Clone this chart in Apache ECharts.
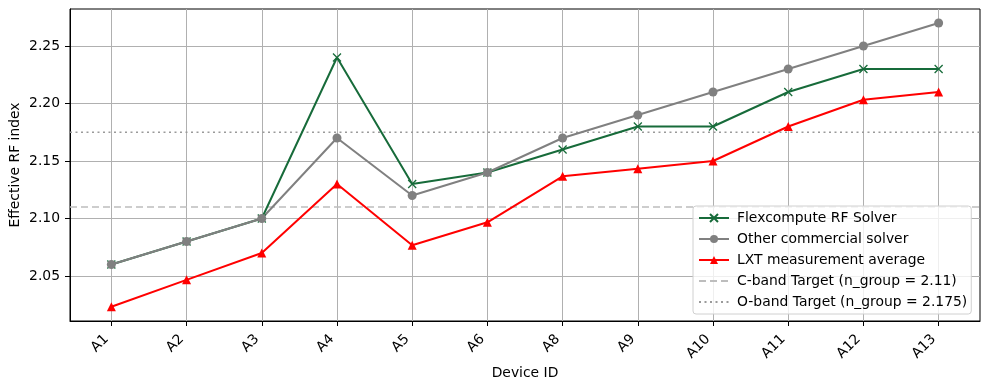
<!DOCTYPE html>
<html><head><meta charset="utf-8">
<script src="https://cdn.jsdelivr.net/npm/echarts@6/dist/echarts.min.js"></script>
<style>html,body{margin:0;padding:0;background:#fff}#c{width:989px;height:389px}</style>
</head><body><div id="c"></div>
<script>
const categories = ['A1','A2','A3','A4','A5','A6','A8','A9','A10','A11','A12','A13'];
const flexcompute = [2.06,2.08,2.10,2.24,2.13,2.14,2.16,2.18,2.18,2.21,2.23,2.23];
const otherSolver = [2.06,2.08,2.10,2.17,2.12,2.14,2.17,2.19,2.21,2.23,2.25,2.27];
const lxtAverage = [2.0233,2.0467,2.07,2.13,2.0767,2.0967,2.1367,2.1433,2.15,2.18,2.2033,2.21];
const cBandTarget = 2.11;
const oBandTarget = 2.175;
const yTicks = [2.05,2.10,2.15,2.20,2.25];
const yRange = [2.0109, 2.2822];

const xMin = -0.55, xMax = categories.length - 1 + 0.55;
const idx = categories.map((_, i) => i);
const pts = arr => arr.map((v, i) => [i, v]);
const font = 'DejaVu Sans';
const FS = 13.9;

const chart = echarts.init(document.getElementById('c'), null, {renderer: 'canvas'});
chart.setOption({
  animation: false,
  backgroundColor: '#fff',
  grid: {left: 70, right: 9, top: 9, bottom: 68, containLabel: false, outerBoundsMode: 'none',
    show: true, borderColor: '#000', borderWidth: 1, backgroundColor: 'transparent'},
  xAxis: {
    type: 'value', min: xMin, max: xMax,
    name: 'Device ID', nameLocation: 'middle', nameGap: 45, nameMoveOverlap: false,
    nameTextStyle: {fontFamily: font, fontSize: FS, color: '#000'},
    axisLine: {show: true, onZero: false, lineStyle: {color: '#000', width: 1}},
    axisTick: {show: true, length: 5, lineStyle: {color: '#000'}, customValues: idx},
    axisLabel: {customValues: idx, rotate: 45, margin: 11, padding: [0, 7, 0, 0],
      fontFamily: font, fontSize: FS, color: '#000',
      formatter: v => categories[Math.round(v)] || ''},
    splitLine: {show: true, lineStyle: {color: '#b0b0b0', width: 1}}
  },
  yAxis: {
    type: 'value', min: yRange[0], max: yRange[1],
    name: 'Effective RF index', nameLocation: 'middle', nameGap: 48, nameMoveOverlap: false,
    nameTextStyle: {fontFamily: font, fontSize: FS, color: '#000'},
    axisLine: {show: true, onZero: false, lineStyle: {color: '#000', width: 1}},
    axisTick: {show: true, length: 5, lineStyle: {color: '#000'}, customValues: yTicks},
    axisLabel: {customValues: yTicks, margin: 10, fontFamily: font, fontSize: FS, color: '#000',
      formatter: v => v.toFixed(2)},
    splitLine: {show: true, lineStyle: {color: '#b0b0b0', width: 1}}
  },
  legend: {
    orient: 'vertical', left: 693, top: 206,
    padding: [5, 4, 5, 5],
    itemWidth: 30, itemHeight: 10, itemGap: 7,
    backgroundColor: 'rgba(255,255,255,0.8)', borderColor: '#d0d0d0', borderWidth: 1, borderRadius: 3,
    textStyle: {fontFamily: font, fontSize: FS, color: '#000', lineHeight: 14, padding: [0, 0, 0, 3]},
    data: ['Flexcompute RF Solver','Other commercial solver','LXT measurement average',
      {name: 'C-band Target (n_group = 2.11)', itemStyle: {opacity: 0}},
      {name: 'O-band Target (n_group = 2.175)', itemStyle: {opacity: 0}}]
  },
  series: [
    {name: 'C-band Target (n_group = 2.11)', type: 'line', symbol: 'none', silent: true,
      data: [[xMin, cBandTarget],[xMax, cBandTarget]],
      lineStyle: {color: '#bdbdbd', width: 1.6, type: [7, 4]}, itemStyle: {color: '#bdbdbd'}},
    {name: 'O-band Target (n_group = 2.175)', type: 'line', symbol: 'none', silent: true,
      data: [[xMin, oBandTarget],[xMax, oBandTarget]],
      lineStyle: {color: '#9a9a9a', width: 1.6, type: [2, 3.5]}, itemStyle: {color: '#9a9a9a'}},
    {name: 'Flexcompute RF Solver', type: 'line', data: pts(flexcompute),
      symbol: 'path://M0,0L10,10M10,0L0,10', symbolSize: 8,
      lineStyle: {color: '#176b3a', width: 2},
      itemStyle: {color: '#176b3a', borderColor: '#176b3a', borderWidth: 1.3}},
    {name: 'Other commercial solver', type: 'line', data: pts(otherSolver),
      symbol: 'circle', symbolSize: 9,
      lineStyle: {color: '#808080', width: 2}, itemStyle: {color: '#808080'}},
    {name: 'LXT measurement average', type: 'line', data: pts(lxtAverage),
      symbol: 'triangle', symbolSize: 9,
      lineStyle: {color: '#ff0000', width: 2}, itemStyle: {color: '#ff0000'}}
  ]
});
</script></body></html>
